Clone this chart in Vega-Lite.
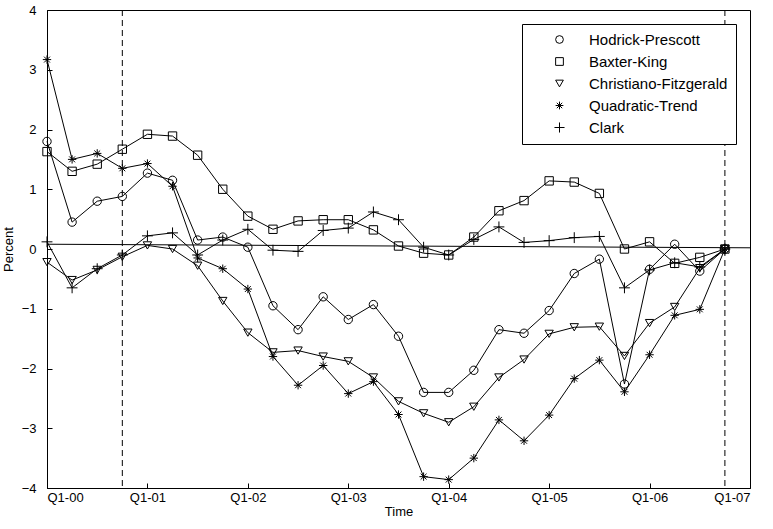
{
  "$schema": "https://vega.github.io/schema/vega-lite/v6.json",
  "width": 703,
  "height": 478,
  "autosize": "none",
  "padding": {"left": 47, "top": 10, "right": 23, "bottom": 41},
  "background": "white",
  "config": {
    "font": "Liberation Sans",
    "view": {"stroke": "black", "strokeWidth": 1},
    "axis": {"grid": false, "domainColor": "black", "tickColor": "black", "labelColor": "black", "titleColor": "black", "labelFontSize": 13, "titleFontSize": 13, "titleFontWeight": "normal", "tickSize": -5}
  },
  "data": {
    "values": [
      {"t": 2000.00, "hp": 1.80, "bk": 1.63, "cf": -0.22, "qt": 3.17, "cl": 0.12},
      {"t": 2000.25, "hp": 0.45, "bk": 1.30, "cf": -0.52, "qt": 1.50, "cl": -0.65},
      {"t": 2000.50, "hp": 0.80, "bk": 1.42, "cf": -0.35, "qt": 1.60, "cl": -0.33},
      {"t": 2000.75, "hp": 0.88, "bk": 1.67, "cf": -0.13, "qt": 1.35, "cl": -0.10},
      {"t": 2001.00, "hp": 1.27, "bk": 1.92, "cf": 0.06, "qt": 1.43, "cl": 0.22},
      {"t": 2001.25, "hp": 1.15, "bk": 1.89, "cf": 0.00, "qt": 1.05, "cl": 0.27},
      {"t": 2001.50, "hp": 0.15, "bk": 1.57, "cf": -0.28, "qt": -0.15, "cl": -0.10},
      {"t": 2001.75, "hp": 0.20, "bk": 1.00, "cf": -0.87, "qt": -0.33, "cl": 0.15},
      {"t": 2002.00, "hp": 0.03, "bk": 0.55, "cf": -1.40, "qt": -0.67, "cl": 0.33},
      {"t": 2002.25, "hp": -0.95, "bk": 0.33, "cf": -1.73, "qt": -1.80, "cl": -0.02},
      {"t": 2002.50, "hp": -1.35, "bk": 0.47, "cf": -1.70, "qt": -2.28, "cl": -0.04},
      {"t": 2002.75, "hp": -0.80, "bk": 0.49, "cf": -1.80, "qt": -1.95, "cl": 0.31},
      {"t": 2003.00, "hp": -1.18, "bk": 0.49, "cf": -1.88, "qt": -2.42, "cl": 0.35},
      {"t": 2003.25, "hp": -0.93, "bk": 0.32, "cf": -2.15, "qt": -2.22, "cl": 0.62},
      {"t": 2003.50, "hp": -1.46, "bk": 0.05, "cf": -2.55, "qt": -2.77, "cl": 0.49},
      {"t": 2003.75, "hp": -2.40, "bk": -0.07, "cf": -2.75, "qt": -3.81, "cl": 0.03},
      {"t": 2004.00, "hp": -2.40, "bk": -0.10, "cf": -2.90, "qt": -3.86, "cl": -0.10},
      {"t": 2004.25, "hp": -2.03, "bk": 0.20, "cf": -2.64, "qt": -3.50, "cl": 0.16},
      {"t": 2004.50, "hp": -1.35, "bk": 0.64, "cf": -2.15, "qt": -2.86, "cl": 0.37},
      {"t": 2004.75, "hp": -1.41, "bk": 0.81, "cf": -1.85, "qt": -3.21, "cl": 0.11},
      {"t": 2005.00, "hp": -1.03, "bk": 1.14, "cf": -1.42, "qt": -2.78, "cl": 0.14},
      {"t": 2005.25, "hp": -0.41, "bk": 1.12, "cf": -1.31, "qt": -2.17, "cl": 0.19},
      {"t": 2005.50, "hp": -0.17, "bk": 0.93, "cf": -1.30, "qt": -1.86, "cl": 0.21},
      {"t": 2005.75, "hp": -2.26, "bk": 0.00, "cf": -1.79, "qt": -2.39, "cl": -0.65},
      {"t": 2006.00, "hp": -0.34, "bk": 0.12, "cf": -1.24, "qt": -1.77, "cl": -0.35},
      {"t": 2006.25, "hp": 0.08, "bk": -0.24, "cf": -0.97, "qt": -1.11, "cl": -0.23},
      {"t": 2006.50, "hp": -0.37, "bk": -0.14, "cf": -0.32, "qt": -1.01, "cl": -0.30},
      {"t": 2006.75, "hp": 0.00, "bk": 0.00, "cf": 0.00, "qt": 0.00, "cl": 0.00}
    ]
  },
  "transform": [
    {"fold": ["hp", "bk", "cf", "qt", "cl"], "as": ["key", "v"]},
    {"lookup": "key", "from": {"data": {"values": [
      {"key": "hp", "name": "Hodrick-Prescott"},
      {"key": "bk", "name": "Baxter-King"},
      {"key": "cf", "name": "Christiano-Fitzgerald"},
      {"key": "qt", "name": "Quadratic-Trend"},
      {"key": "cl", "name": "Clark"}
    ]}, "key": "key", "fields": ["name"]}}
  ],
  "encoding": {
    "x": {
      "field": "t", "type": "quantitative",
      "scale": {"domain": [2000, 2007], "nice": false, "zero": false},
      "axis": {"values": [2000, 2001, 2002, 2003, 2004, 2005, 2006, 2007], "labelExpr": "'Q1-0' + (datum.value - 2000)", "title": "Time", "titlePadding": 1, "labelPadding": 8}
    },
    "y": {
      "field": "v", "type": "quantitative",
      "scale": {"domain": [-4, 4], "nice": false},
      "axis": {"values": [-4, -3, -2, -1, 0, 1, 2, 3, 4], "format": "d", "title": "Percent", "titlePadding": 6, "labelPadding": 16}
    }
  },
  "layer": [
    {
      "data": {"values": [{"t": 2000.75}, {"t": 2006.75}]},
      "transform": [],
      "mark": {"type": "rule", "strokeDash": [6, 4], "color": "black", "strokeWidth": 1},
      "encoding": {"x": {"field": "t", "type": "quantitative"}, "y": null}
    },
    {
      "data": {"values": [{"t": 2000, "v": 0.08}, {"t": 2007, "v": 0.02}]},
      "transform": [],
      "mark": {"type": "line", "color": "black", "strokeWidth": 1},
      "encoding": {}
    },
    {
      "mark": {"type": "line", "color": "black", "strokeWidth": 1},
      "encoding": {"detail": {"field": "name"}}
    },
    {
      "mark": {"type": "point", "filled": false, "color": "black", "size": 70, "strokeWidth": 1, "opacity": 1},
      "encoding": {
        "shape": {
          "field": "name", "type": "nominal",
          "scale": {
            "domain": ["Hodrick-Prescott", "Baxter-King", "Christiano-Fitzgerald", "Quadratic-Trend", "Clark"],
            "range": ["circle", "square", "triangle-down", "M-1,0L1,0M0,-1L0,1M-0.7,-0.7L0.7,0.7M-0.7,0.7L0.7,-0.7", "M-1.3,0L1.3,0M0,-1.3L0,1.3"]
          },
          "legend": {
            "title": null, "orient": "top-right", "offset": 14,
            "strokeColor": "black", "fillColor": "white", "padding": 8,
            "labelFontSize": 15, "labelColor": "black", "symbolStrokeColor": "black", "symbolSize": 60, "symbolStrokeWidth": 1, "rowPadding": 6,
            "symbolOffset": 22, "labelOffset": 22
          }
        }
      }
    }
  ]
}
